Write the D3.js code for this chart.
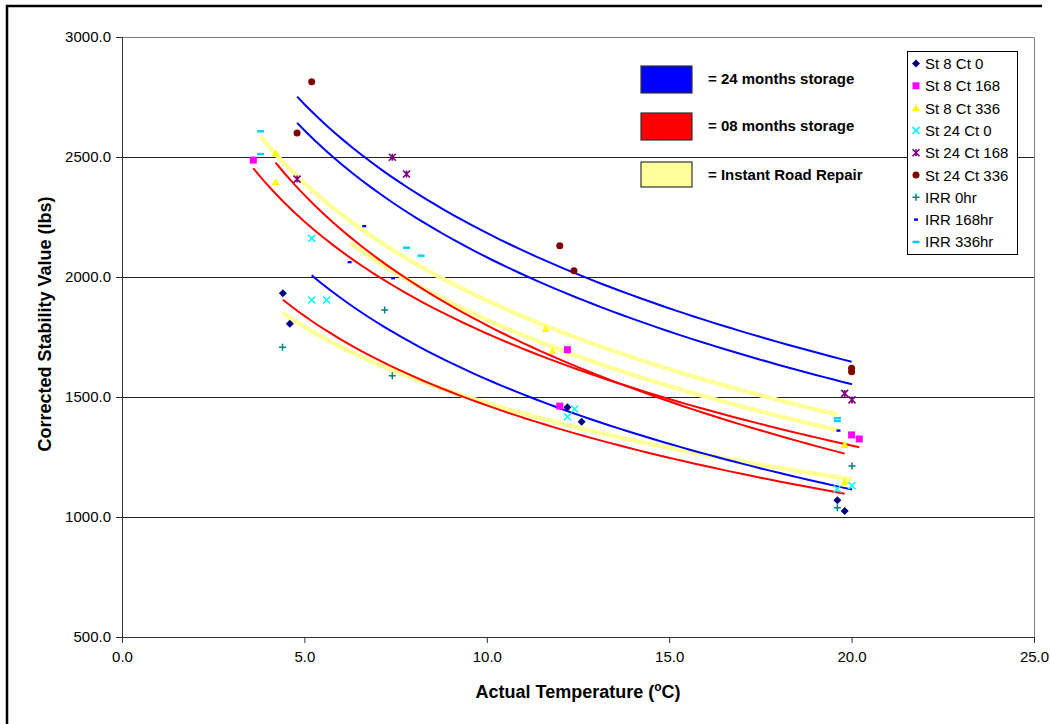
<!DOCTYPE html>
<html lang="en">
<head>
<meta charset="UTF-8">
<title>Corrected Stability vs Temperature</title>
<script src="https://cdn.jsdelivr.net/npm/d3@7"></script>
<style>
  body { margin: 0; background: #fff; }
  text { font-family: Arial, "Liberation Sans", sans-serif; fill: #000; }
</style>
</head>
<body>
<svg width="1050" height="724"></svg>
<script>
// points: [temperature (C), stability (lbs)]
var st8ct0   = [[4.41, 1932], [4.60, 1805], [12.21, 1457], [12.60, 1397], [19.61, 1070], [19.81, 1025]];
var st8ct168 = [[3.60, 2487], [12.00, 1462], [12.21, 1697], [20.00, 1342], [20.21, 1325]];
var st8ct336 = [[4.21, 2515], [4.21, 2395], [11.61, 1783], [11.80, 1692], [19.81, 1300], [19.81, 1147]];
var st24ct0   = [[5.20, 2161], [5.20, 1904], [5.61, 1904], [12.41, 1450], [12.21, 1418], [20.01, 1130], [19.61, 1117]];
var st24ct168 = [[4.80, 2408], [7.41, 2499], [7.80, 2429], [19.81, 1515], [20.01, 1488]];
var st24ct336 = [[5.20, 2814], [4.80, 2600], [12.00, 2130], [12.39, 2026], [20.00, 1620], [20.00, 1605]];
var irr0   = [[4.40, 1707], [7.20, 1862], [7.41, 1589], [20.01, 1212], [19.61, 1039]];
var irr168 = [[6.64, 2212], [6.24, 2062], [7.43, 1995], [19.64, 1360]];
var irr336 = [[3.80, 2607], [3.80, 2512], [7.80, 2122], [8.20, 2089], [19.61, 1412], [19.61, 1400]];

var seriesNames = ['St 8 Ct 0', 'St 8 Ct 168', 'St 8 Ct 336', 'St 24 Ct 0', 'St 24 Ct 168',
                   'St 24 Ct 336', 'IRR 0hr', 'IRR 168hr', 'IRR 336hr'];
var seriesData = [st8ct0, st8ct168, st8ct336, st24ct0, st24ct168, st24ct336, irr0, irr168, irr336];
var markerTypes = ['diamond', 'square', 'triangle', 'x', 'star', 'circle', 'plus', 'dashS', 'dashL'];
var markerColors = ['#000080', '#FF00FF', '#FFFF00', '#00FFFF', '#800080', '#800000', '#008080', '#0000FF', '#00CCFF'];
// trendline group of each series: 0 = 08 months, 1 = 24 months, 2 = IRR
var trendGroup = [0, 0, 0, 1, 1, 1, 2, 2, 2];

var keyLabels = ['= 24 months storage', '= 08 months storage', '= Instant Road Repair'];
var keyColors = ['#0000FF', '#FF0000', '#FFFF99'];
var trendColors = ['#FF0000', '#0000FF', '#FFFF99'];
var trendWidths = [2, 2, 4.5];

var xTicks = [0, 5, 10, 15, 20, 25];
var yTicks = [500, 1000, 1500, 2000, 2500, 3000];

var svg = d3.select('svg');
var pLeft = 122, pRight = 1034, pTop = 37, pBottom = 637;

var x = d3.scaleLinear().domain([0, 25]).range([pLeft, pRight]);
var y = d3.scaleLinear().domain([500, 3000]).range([pBottom, pTop]);

// figure frame (left + top edge)
svg.append('path')
    .attr('d', 'M7,724 L7,6 L1042,6')
    .attr('fill', 'none').attr('stroke', '#000').attr('stroke-width', 2.5);

// plot area border (top + right, grey)
svg.append('path')
    .attr('d', 'M' + pLeft + ',' + (pTop + 0.5) + ' L' + (pRight + 0.5) + ',' + (pTop + 0.5) + ' L' + (pRight + 0.5) + ',' + pBottom)
    .attr('fill', 'none').attr('stroke', '#808080').attr('stroke-width', 1);

// gridlines
svg.append('g').selectAll('line').data(yTicks.slice(1, -1)).enter().append('line')
    .attr('x1', pLeft).attr('x2', pRight)
    .attr('y1', function (d) { return Math.round(y(d)) + 0.5; })
    .attr('y2', function (d) { return Math.round(y(d)) + 0.5; })
    .attr('stroke', '#222').attr('stroke-width', 1);

// axes
var axisX = d3.axisBottom(x).tickValues(xTicks).tickSize(6).tickPadding(8)
    .tickFormat(d3.format('.1f'));
var axisY = d3.axisLeft(y).tickValues(yTicks).tickSize(6).tickPadding(5)
    .tickFormat(d3.format('.1f'));

var gx = svg.append('g').attr('transform', 'translate(0,' + pBottom + ')').call(axisX);
var gy = svg.append('g').attr('transform', 'translate(' + pLeft + ',0)').call(axisY);
[gx, gy].forEach(function (g) {
    g.attr('font-size', 15).attr('font-family', 'Arial, "Liberation Sans", sans-serif');
    g.select('.domain').attr('stroke', '#333');
    g.selectAll('.tick line').attr('stroke', '#333');
    g.selectAll('.tick text').attr('font-size', 15);
});

// axis titles
svg.append('text')
    .attr('transform', 'translate(51,' + 324 + ') rotate(-90)')
    .attr('text-anchor', 'middle')
    .attr('font-size', 18).attr('font-weight', 'bold')
    .text('Corrected Stability Value (lbs)');

var xt = svg.append('text')
    .attr('x', (pLeft + pRight) / 2).attr('y', 698)
    .attr('text-anchor', 'middle')
    .attr('font-size', 18).attr('font-weight', 'bold');
xt.append('tspan').text('Actual Temperature (');
xt.append('tspan').attr('dy', -7).attr('font-size', 12).text('o');
xt.append('tspan').attr('dy', 7).text('C)');

// logarithmic trendlines, y = a + b ln(x)
function logFit(pts) {
    var mx = d3.mean(pts, function (p) { return Math.log(p[0]); });
    var my = d3.mean(pts, function (p) { return p[1]; });
    var sxx = d3.sum(pts, function (p) { return Math.pow(Math.log(p[0]) - mx, 2); });
    var sxy = d3.sum(pts, function (p) { return (Math.log(p[0]) - mx) * (p[1] - my); });
    var b = sxy / sxx;
    return [my - b * mx, b];
}

var line = d3.line()
    .x(function (d) { return x(d[0]); })
    .y(function (d) { return y(d[1]); });

var trendG = svg.append('g');
// draw IRR first, then 08 months, then 24 months
[6, 7, 8, 0, 1, 2, 3, 4, 5].forEach(function (i) {
    var pts = seriesData[i];
    var fit = logFit(pts);
    var ext = d3.extent(pts, function (p) { return p[0]; });
    var curve = d3.range(0, 61).map(function (k) {
        var t = ext[0] + (ext[1] - ext[0]) * k / 60;
        return [t, fit[0] + fit[1] * Math.log(t)];
    });
    var gi = trendGroup[i];
    trendG.append('path')
        .attr('d', line(curve))
        .attr('fill', 'none')
        .attr('stroke', trendColors[gi])
        .attr('stroke-width', trendWidths[gi]);
});

// markers
function drawMarker(g, type, color, cx, cy) {
    var s = 3.5;
    if (type === 'diamond') {
        g.append('path').attr('d', 'M' + cx + ',' + (cy - 4) + ' L' + (cx + 4) + ',' + cy + ' L' + cx + ',' + (cy + 4) + ' L' + (cx - 4) + ',' + cy + ' Z')
            .attr('fill', color);
    } else if (type === 'square') {
        g.append('rect').attr('x', cx - 3.5).attr('y', cy - 3.5).attr('width', 7).attr('height', 7)
            .attr('fill', color);
    } else if (type === 'triangle') {
        g.append('path').attr('d', 'M' + cx + ',' + (cy - 4) + ' L' + (cx + 4) + ',' + (cy + 3) + ' L' + (cx - 4) + ',' + (cy + 3) + ' Z')
            .attr('fill', color);
    } else if (type === 'circle') {
        g.append('circle').attr('cx', cx).attr('cy', cy).attr('r', 3.5).attr('fill', color);
    } else if (type === 'x') {
        g.append('path').attr('d', 'M' + (cx - s) + ',' + (cy - s) + ' L' + (cx + s) + ',' + (cy + s) +
            ' M' + (cx + s) + ',' + (cy - s) + ' L' + (cx - s) + ',' + (cy + s))
            .attr('stroke', color).attr('stroke-width', 1.5).attr('fill', 'none');
    } else if (type === 'star') {
        g.append('path').attr('d', 'M' + (cx - s) + ',' + (cy - s) + ' L' + (cx + s) + ',' + (cy + s) +
            ' M' + (cx + s) + ',' + (cy - s) + ' L' + (cx - s) + ',' + (cy + s) +
            ' M' + cx + ',' + (cy - s) + ' L' + cx + ',' + (cy + s))
            .attr('stroke', color).attr('stroke-width', 1.6).attr('fill', 'none');
    } else if (type === 'plus') {
        g.append('path').attr('d', 'M' + (cx - s) + ',' + cy + ' L' + (cx + s) + ',' + cy +
            ' M' + cx + ',' + (cy - s) + ' L' + cx + ',' + (cy + s))
            .attr('stroke', color).attr('stroke-width', 1.5).attr('fill', 'none');
    } else if (type === 'dashS') {
        g.append('rect').attr('x', cx - 2).attr('y', cy - 1.2).attr('width', 4).attr('height', 2.4)
            .attr('fill', color);
    } else if (type === 'dashL') {
        g.append('rect').attr('x', cx - 3.5).attr('y', cy - 1.2).attr('width', 7).attr('height', 2.4)
            .attr('fill', color);
    }
}

var markG = svg.append('g');
seriesData.forEach(function (pts, i) {
    pts.forEach(function (p) {
        drawMarker(markG, markerTypes[i], markerColors[i], x(p[0]), y(p[1]));
    });
});

// series legend
var leg = svg.append('g');
leg.append('rect').attr('x', 907.5).attr('y', 51.5).attr('width', 110).attr('height', 203)
    .attr('fill', '#fff').attr('stroke', '#000').attr('stroke-width', 1);
seriesNames.forEach(function (name, i) {
    var ly = 63.5 + i * 22.3;
    drawMarker(leg, markerTypes[i], markerColors[i], 916, ly);
    leg.append('text').attr('x', 925).attr('y', ly + 5.5)
        .attr('font-size', 15).text(name);
});

// colour key for trendlines
var key = svg.append('g');
keyLabels.forEach(function (lab, i) {
    var ky = [66, 113, 162][i];
    key.append('rect').attr('x', 641).attr('y', ky).attr('width', 51).attr('height', i === 2 ? 25 : 27)
        .attr('fill', keyColors[i]).attr('stroke', '#333').attr('stroke-width', 1.2);
    key.append('text').attr('x', 708).attr('y', ky + 18)
        .attr('font-size', 15).attr('font-weight', 'bold').text(lab);
});
</script>
</body>
</html>
